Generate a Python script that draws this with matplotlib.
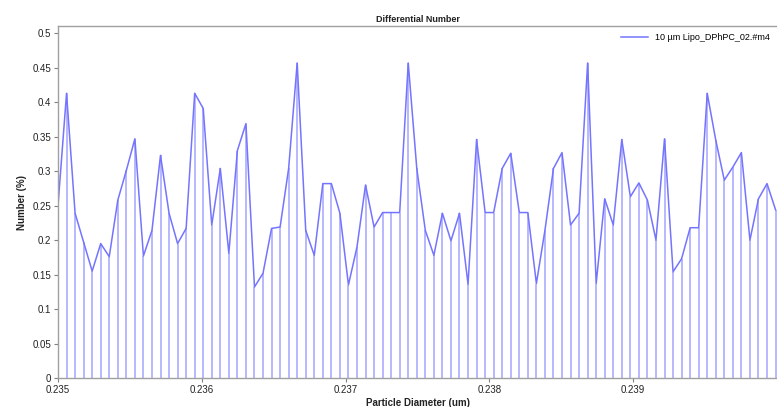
import numpy as np
import matplotlib
matplotlib.use("Agg")
import matplotlib.pyplot as plt

plt.rcParams['font.family'] = ['Liberation Sans', 'DejaVu Sans']

# Data
diam_start = 0.235
diam_end = 0.23999
number_pct = [
    0.250, 0.413, 0.239, 0.197, 0.155, 0.195, 0.176, 0.258, 0.301, 0.347,
    0.177, 0.214, 0.323, 0.239, 0.195, 0.217, 0.413, 0.391, 0.222, 0.304,
    0.181, 0.330, 0.369, 0.132, 0.152, 0.217, 0.219, 0.304, 0.457, 0.214,
    0.178, 0.282, 0.282, 0.239, 0.135, 0.190, 0.280, 0.219, 0.240, 0.240,
    0.240, 0.457, 0.304, 0.214, 0.178, 0.239, 0.199, 0.239, 0.136, 0.346,
    0.240, 0.240, 0.304, 0.326, 0.240, 0.240, 0.137, 0.214, 0.304, 0.327,
    0.222, 0.239, 0.457, 0.137, 0.260, 0.222, 0.346, 0.263, 0.283, 0.258,
    0.200, 0.347, 0.154, 0.173, 0.218, 0.218, 0.413, 0.345, 0.287, 0.306,
    0.327, 0.200, 0.260, 0.282, 0.244,
]
diameters = np.linspace(diam_start, diam_end, len(number_pct))
x_ticks = [0.235, 0.236, 0.237, 0.238, 0.239]
y_ticks = [0, 0.05, 0.1, 0.15, 0.2, 0.25, 0.3, 0.35, 0.4, 0.45, 0.5]
series_label = "10 \u00b5m Lipo_DPhPC_02.#m4"

fig = plt.figure(figsize=(7.77, 4.07), dpi=100)
ax = fig.add_axes([58/777, 1-378/407, 1-58/777, (378-26)/407])

ax.vlines(diameters, 0, number_pct, color='#a4a4ff', lw=1.1)
ax.plot(diameters, number_pct, color='#7474ff', lw=1.1, label=series_label)

ax.set_xlim(0.235, 0.24)
ax.set_ylim(0, 0.5106)
ax.set_xticks(x_ticks)
ax.set_xticklabels([f"{v:g}" for v in x_ticks])
ax.set_yticks(y_ticks)
ax.set_yticklabels([f"{v:g}" for v in y_ticks])

for s in ['left', 'bottom', 'top']:
    ax.spines[s].set_color('#a0a0a0')
    ax.spines[s].set_linewidth(1.0)
ax.spines['right'].set_visible(False)
ax.tick_params(axis='both', labelsize=7, color='#808080', length=3, width=0.8,
               labelcolor='#222222', pad=2)

ax.set_title("Differential Number", fontsize=6.5, color='#222222', pad=3,
             fontweight='bold')
ax.set_xlabel("Particle Diameter (um)", fontsize=7, color='#222222', labelpad=2,
              fontweight='bold')
ax.set_ylabel("Number (%)", fontsize=7, color='#222222', labelpad=4,
              fontweight='bold')

leg = ax.legend(loc='upper right', frameon=False, fontsize=6.5, handlelength=3.0,
                borderaxespad=0.2, bbox_to_anchor=(0.998, 0.995))

fig.savefig("out.png", dpi=100)
